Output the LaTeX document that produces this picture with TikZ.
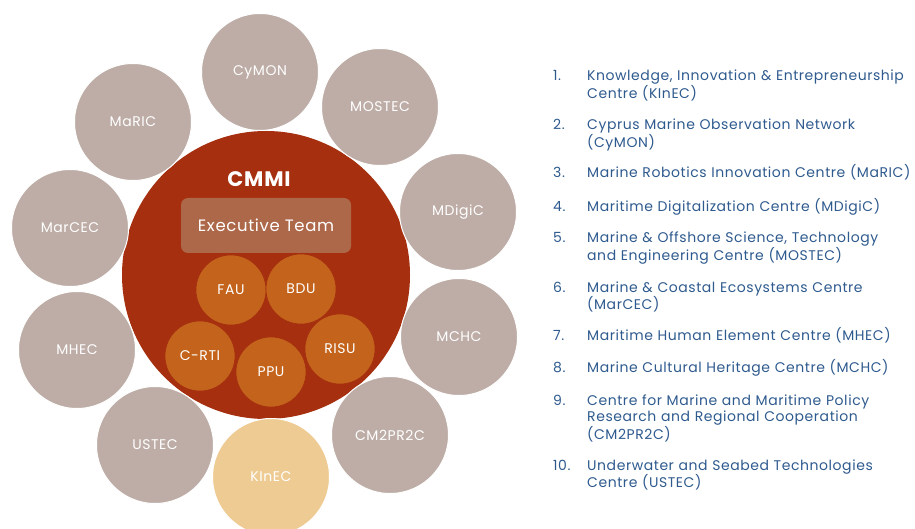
\documentclass[tikz,border=0pt]{standalone}
\usepackage{fontspec}
\setmainfont{Poppins}[LetterSpace=4]
\definecolor{cmmired}{HTML}{A52F0F}
\definecolor{exebox}{HTML}{AD684A}
\definecolor{unitorange}{HTML}{C4641C}
\definecolor{centregrey}{HTML}{BDADA6}
\definecolor{kinecsand}{HTML}{EECB93}
\definecolor{listblue}{HTML}{2E5A8E}
\begin{document}
\begin{tikzpicture}[x=1pt,y=-1pt,
	centre/.style={circle,fill=centregrey,draw=white,line width=1pt,minimum size=117pt,inner sep=0pt,text=white,font=\fontsize{14}{16}\selectfont},
	unit/.style={circle,fill=unitorange,draw=cmmired,line width=.6pt,minimum size=70pt,inner sep=0pt,text=white,font=\fontsize{14}{16}\selectfont},
	item/.style={anchor=base west,inner sep=0pt,text=listblue,font=\fontsize{14}{16.5}\selectfont}]
	\useasboundingbox (0,0) rectangle (915,529);
	\clip (0,0) rectangle (915,529);
	% CMMI core
	\node[circle,fill=cmmired,minimum size=288pt,inner sep=0pt] (cmmi) at (266,275) {};
	\node[text=white,font=\bfseries\fontsize{21}{24}\selectfont] (cmmit) at (259,179) {CMMI};
	\node[fill=exebox,rounded corners=7pt,minimum width=170pt,minimum height=55pt,text=white,font=\fontsize{16.5}{18}\selectfont] (exec) at (266,225.5) {Executive Team};
	\foreach \nm/\lbl/\x/\y in {fau/FAU/231/290, bdu/BDU/301/289, crti/C-RTI/200/356, ppu/PPU/271/372, risu/RISU/340/349}
		\node[unit] (\nm) at (\x,\y) {\lbl};
	% centres round the core
	\foreach \nm/\lbl/\x/\y in {cymon/CyMON/260/72, mostec/MOSTEC/380/107, mdigic/MDigiC/458/212, mchc/MCHC/459/337, cm2pr2c/CM2PR2C/390/435,
		ustec/USTEC/155/445, mhec/MHEC/77/350, marcec/MarCEC/70/228, maric/MaRIC/133/122}
		\node[centre] (\nm) at (\x,\y) {\lbl};
	\node[centre,fill=kinecsand] (kinec) at (271,477) {KInEC};
	% list of centres
	\foreach \n/\y/\txt [count=\i] in {1./80.7/{Knowledge, Innovation \& Entrepreneurship\\Centre (KInEC)},
		2./130/{Cyprus Marine Observation Network\\(CyMON)},
		3./178/{Marine Robotics Innovation Centre (MaRIC)},
		4./211.5/{Maritime Digitalization Centre (MDigiC)},
		5./243/{Marine \& Offshore Science, Technology\\and Engineering Centre (MOSTEC)},
		6./292/{Marine \& Coastal Ecosystems Centre\\(MarCEC)},
		7./340/{Maritime Human Element Centre (MHEC)},
		8./372/{Marine Cultural Heritage Centre (MCHC)},
		9./405/{Centre for Marine and Maritime Policy\\Research and Regional Cooperation\\(CM2PR2C)},
		10./470/{Underwater and Seabed Technologies\\Centre (USTEC)}}
	{
		\node[item] (num\i) at (553,\y) {\n};
		\node[item,text width=360pt,align=left] (txt\i) at (587,\y) {\txt};
	}
\end{tikzpicture}
\end{document}
